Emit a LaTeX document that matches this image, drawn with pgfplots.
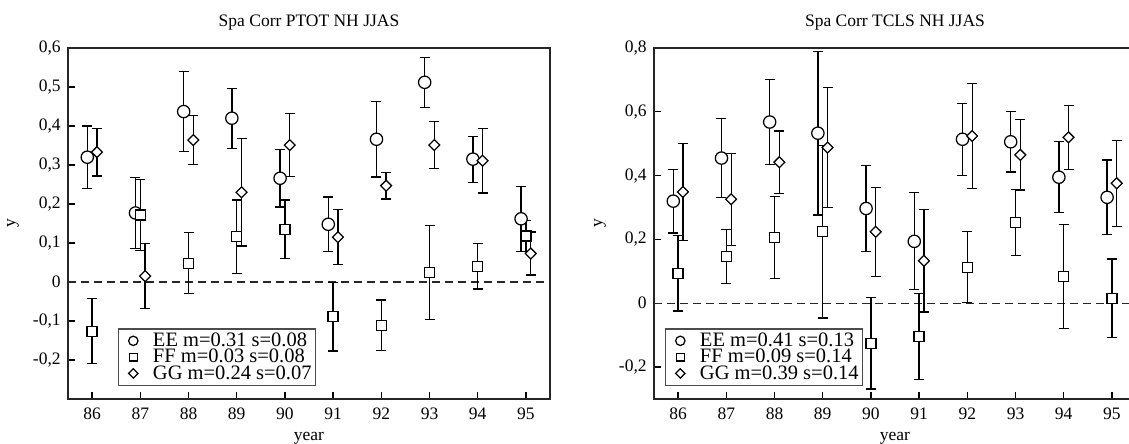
\documentclass[border=0pt]{standalone}
\usepackage{fontspec}
\setmainfont{Liberation Serif}
\usepackage{pgfplots}
\pgfplotsset{compat=1.18}
\usepackage{pgfplotstable}

% left panel: PTOT
\pgfplotstableread{
x y e
85.9 0.320 0.080
86.9 0.177 0.091
87.9 0.437 0.103
88.9 0.420 0.077
89.9 0.266 0.074
90.9 0.148 0.070
91.9 0.366 0.097
92.9 0.512 0.064
93.9 0.315 0.059
94.9 0.162 0.083
}\LEE
\pgfplotstableread{
x y e
86 -0.126 0.083
87 0.172 0.091
88 0.048 0.078
89 0.116 0.094
90 0.135 0.075
91 -0.089 0.088
92 -0.111 0.065
93 0.024 0.120
94 0.040 0.058
95 0.118 0.040
}\LFF
\pgfplotstableread{
x y e
86.1 0.333 0.061
87.1 0.015 0.083
88.1 0.364 0.063
89.1 0.230 0.138
90.1 0.351 0.081
91.1 0.115 0.070
92.1 0.247 0.034
93.1 0.351 0.060
94.1 0.311 0.083
95.1 0.073 0.055
}\LGG
% right panel: TCLS
\pgfplotstableread{
x y e
85.9 0.320 0.100
86.9 0.455 0.124
87.9 0.568 0.134
88.9 0.533 0.256
89.9 0.297 0.135
90.9 0.194 0.152
91.9 0.514 0.113
92.9 0.506 0.095
93.9 0.395 0.111
94.9 0.332 0.117
}\REE
\pgfplotstableread{
x y e
86 0.094 0.118
87 0.146 0.085
88 0.206 0.128
89 0.224 0.270
90 -0.126 0.143
91 -0.104 0.135
92 0.113 0.111
93 0.253 0.104
94 0.083 0.163
95 0.016 0.123
}\RFF
\pgfplotstableread{
x y e
86.1 0.349 0.152
87.1 0.326 0.144
88.1 0.442 0.098
89.1 0.488 0.188
90.1 0.224 0.139
91.1 0.133 0.160
92.1 0.524 0.165
93.1 0.465 0.110
94.1 0.520 0.100
95.1 0.376 0.135
}\RGG

\pgfplotsset{
  /pgf/number format/assume math mode=true,
  every axis title shift=0pt,
  myax/.style={
    scale only axis, width=289.2pt, height=210.6pt,
    xmin=85.5, xmax=95.5, xtick={86,87,...,95}, ymin=-0.3,
    tick align=inside, xtick pos=bottom, ytick pos=left,
    major tick length=4.2pt,
    axis line style={line width=0.8pt, black!85},
    every tick/.style={line width=0.8pt, black},
    tick label style={font=\fontsize{10.5}{12}\selectfont},
    xticklabel style={inner sep=0pt, yshift=-5.4pt},
    yticklabel style={inner sep=0pt, xshift=-4.2pt,
      /pgf/number format/.cd, use comma, fixed, precision=1},
    title style={at={(axis description cs:0.5,1.06)}, anchor=base, inner sep=0pt,
      font=\fontsize{10.5}{12}\selectfont},
    xlabel={year}, ylabel={y},
    label style={font=\fontsize{10.5}{12}\selectfont},
    xlabel style={at={(axis description cs:0.5,-0.117)}, anchor=base, inner sep=0pt},
    legend cell align=left,
    legend style={anchor=south west, draw=black!70, line width=0.8pt,
      font=\fontsize{12.3}{13}\selectfont, inner sep=2.3pt,
      nodes={inner sep=0pt}, row sep=0.1pt, column sep=0.8pt},
  },
  mypl/.style={only marks,
    error bars/y dir=both, error bars/y explicit,
    error bars/error bar style={line width=0.75pt, black},
    error bars/error mark options={rotate=90, mark size=3pt, line width=0.75pt, black}},
  eeS/.style={mypl, mark=*, mark size=3.7pt,
    mark options={fill=white, draw=black, line width=0.75pt, solid},
    legend image code/.code={\path[draw=none, fill=none] (0pt,-3pt) rectangle (17.5pt,3pt);
      \draw[##1, mark size=2.8pt] plot coordinates {(6.5pt,0pt)};}},
  ffS/.style={mypl, mark=square*, mark size=3pt,
    mark options={fill=white, draw=black, line width=0.75pt, solid},
    legend image code/.code={\path[draw=none, fill=none] (0pt,-3pt) rectangle (17.5pt,3pt);
      \draw[##1, mark size=2.3pt] plot coordinates {(6.5pt,0pt)};}},
  ggS/.style={mypl, mark=square*, mark size=2.3pt,
    mark options={fill=white, draw=black, line width=0.75pt, solid, rotate=45},
    legend image code/.code={\path[draw=none, fill=none] (0pt,-3pt) rectangle (17.5pt,3pt);
      \draw[##1, mark size=2pt] plot coordinates {(6.5pt,0pt)};}},
}

\begin{document}
\begin{tikzpicture}
\begin{axis}[myax, at={(40.8pt,27pt)}, anchor=south west,
  ymax=0.6, ytick={-0.2,-0.1,...,0.6},
  title={Spa Corr PTOT NH JJAS},
  ylabel style={at={(axis description cs:-0.114,0.5)}, anchor=center, inner sep=0pt},
  legend style={at={(0.1037,0.037)}}]
\draw[black!85, line width=0.75pt, dash pattern=on 4.8pt off 3pt]
  (axis cs:85.5,0) -- (axis cs:95.5,0);
\addplot[eeS] table[x=x, y=y, y error=e] {\LEE};
\addplot[ffS] table[x=x, y=y, y error=e] {\LFF};
\addplot[ggS] table[x=x, y=y, y error=e] {\LGG};
\legend{EE m=0.31 s=0.08, FF m=0.03 s=0.08, GG m=0.24 s=0.07}
\end{axis}
\begin{axis}[myax, at={(392.4pt,27pt)}, anchor=south west,
  ymax=0.8, ytick={-0.2,0,...,0.8},
  title={Spa Corr TCLS NH JJAS},
  ylabel style={at={(axis description cs:-0.112,0.5)}, anchor=center, inner sep=0pt},
  legend style={at={(0.0228,0.037)}}]
\draw[black!85, line width=0.75pt, dash pattern=on 4.8pt off 3pt]
  (axis cs:85.5,0) -- (axis cs:95.5,0);
\addplot[eeS] table[x=x, y=y, y error=e] {\REE};
\addplot[ffS] table[x=x, y=y, y error=e] {\RFF};
\addplot[ggS] table[x=x, y=y, y error=e] {\RGG};
\legend{EE m=0.41 s=0.13, FF m=0.09 s=0.14, GG m=0.39 s=0.14}
\end{axis}
\pgfresetboundingbox
\useasboundingbox (0,0) rectangle (677.4pt,266.4pt);
\end{tikzpicture}
\end{document}
